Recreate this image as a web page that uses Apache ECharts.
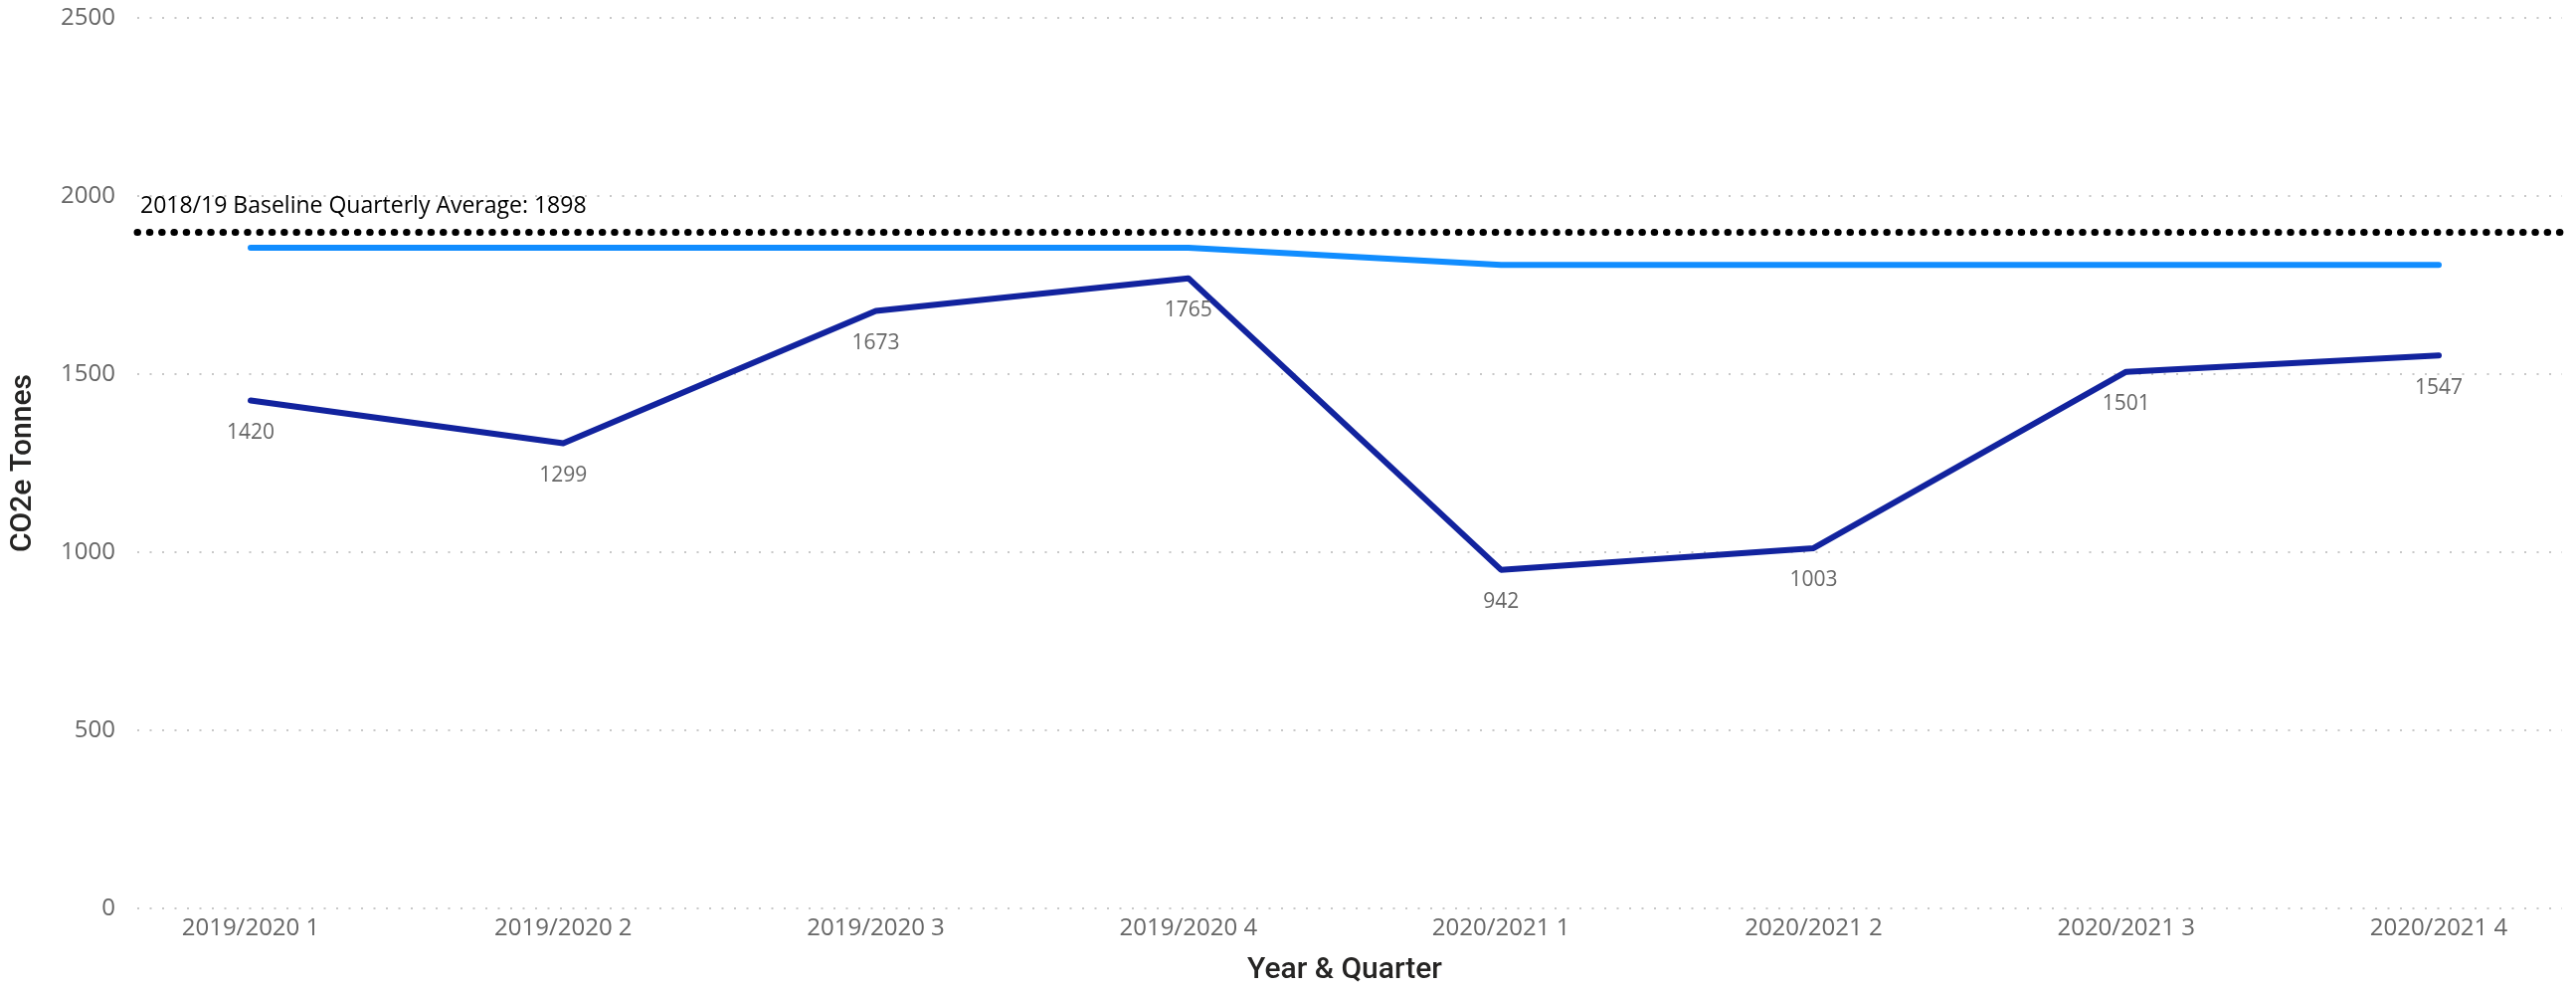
<!DOCTYPE html>
<html>
<head>
<meta charset="utf-8">
<script src="https://cdn.jsdelivr.net/npm/echarts@6/dist/echarts.min.js"></script>
<style>
html,body{margin:0;padding:0;background:#fff;}
#chart{width:2590px;height:995px;}
</style>
</head>
<body>
<div id="chart"></div>
<script>
const categories = ['2019/2020 1','2019/2020 2','2019/2020 3','2019/2020 4','2020/2021 1','2020/2021 2','2020/2021 3','2020/2021 4'];
const actualValues = [1420, 1299, 1673, 1765, 942, 1003, 1501, 1547];
const targetValues = [1851, 1851, 1851, 1851, 1803, 1803, 1803, 1803];
const baselineValue = 1898;
const baselineLabel = '2018/19 Baseline Quarterly Average: ';
const yMin = 0, yMax = 2500, yStep = 500;
const xTitle = 'Year & Quarter';
const yTitle = 'CO2e Tonnes';

const tickFont = "'Segoe UI', 'Open Sans', sans-serif";
const titleFont = "'DIN', Roboto, sans-serif";

const chart = echarts.init(document.getElementById('chart'));
const option = {
  animation: false,
  backgroundColor: '#ffffff',
  grid: [
    {left: 126, right: 14, top: 18, bottom: 82},
    {left: 252, right: 138, top: 18, bottom: 82}
  ],
  xAxis: [
    {gridIndex: 0, type: 'value', min: 0, max: 1, show: false},
    {
      gridIndex: 1, type: 'category', data: categories, boundaryGap: false,
      axisLine: {show: false}, axisTick: {show: false},
      axisLabel: {color: '#666666', fontSize: 24, fontFamily: tickFont, margin: 13},
      name: xTitle, nameLocation: 'middle', nameGap: 52,
      nameTextStyle: {color: '#252423', fontSize: 30, fontWeight: 500, fontFamily: titleFont}
    }
  ],
  yAxis: [
    {
      gridIndex: 0, type: 'value', min: yMin, max: yMax, interval: yStep,
      axisLine: {show: false}, axisTick: {show: false},
      axisLabel: {color: '#666666', fontSize: 24, fontFamily: tickFont, margin: 22, formatter: v => String(v)},
      splitLine: {show: true, lineStyle: {color: '#c8c8c8', width: 2, type: [2, 10.5]}},
      name: yTitle, nameLocation: 'middle', nameGap: 100, nameRotate: 90,
      nameTextStyle: {color: '#252423', fontSize: 30, fontWeight: 500, fontFamily: titleFont}
    },
    {gridIndex: 1, type: 'value', min: yMin, max: yMax, interval: yStep, show: false, splitLine: {show: false}}
  ],
  series: [
    {
      name: 'Baseline', type: 'line', xAxisIndex: 0, yAxisIndex: 0,
      data: [
        {value: [0, baselineValue], label: {show: true, formatter: p => baselineLabel + p.value[1],
          position: [3, -26], align: 'left', verticalAlign: 'middle', color: '#000000', fontSize: 23, fontFamily: tickFont}},
        {value: [1, baselineValue]}
      ],
      symbol: 'circle', symbolSize: 0.01, itemStyle: {color: '#000000'},
      lineStyle: {color: '#000000', width: 7, type: [0.5, 11.8], cap: 'round'},
      z: 3
    },
    {
      name: 'Target', type: 'line', xAxisIndex: 1, yAxisIndex: 1,
      data: targetValues,
      symbol: 'circle', symbolSize: 0.01, itemStyle: {color: '#118DFF'},
      lineStyle: {color: '#118DFF', width: 6, cap: 'round', join: 'round'},
      z: 2
    },
    {
      name: 'Actual', type: 'line', xAxisIndex: 1, yAxisIndex: 1,
      data: actualValues,
      symbol: 'circle', symbolSize: 0.01, itemStyle: {color: '#12239E'},
      lineStyle: {color: '#12239E', width: 6, cap: 'round', join: 'round'},
      label: {show: true, position: 'bottom', distance: 22, color: '#666666', fontSize: 21, fontFamily: tickFont},
      z: 4
    }
  ]
};
chart.setOption(option);
</script>
</body>
</html>
